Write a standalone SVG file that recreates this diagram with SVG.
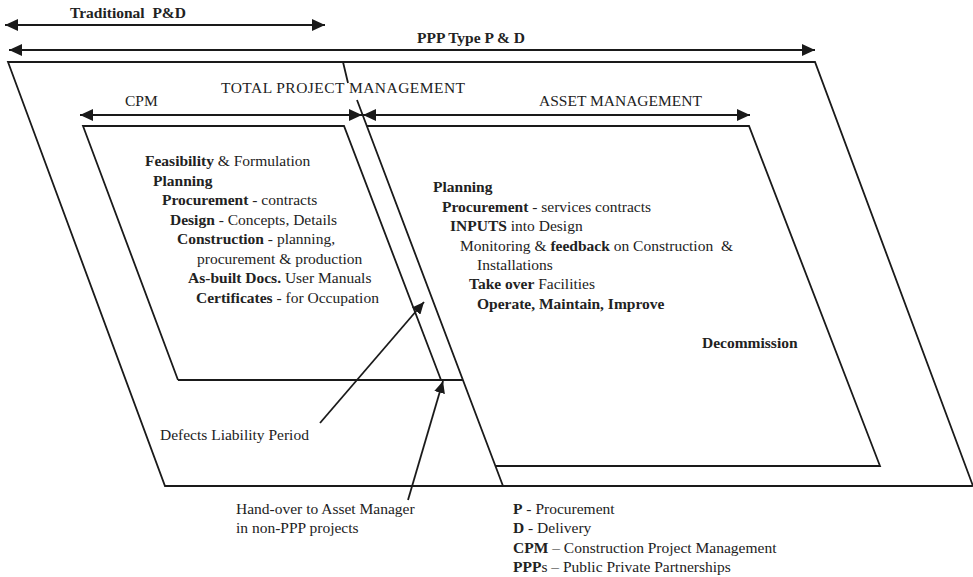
<svg xmlns="http://www.w3.org/2000/svg" width="973" height="577" viewBox="0 0 973 577">
<style>
.ln{fill:none;stroke:#1a1a1a;stroke-width:1.8;stroke-linejoin:miter}
.ar{fill:none;stroke:#1a1a1a;stroke-width:1.8}
.t{font-family:"Liberation Serif","Times New Roman",serif;font-size:15.5px;fill:#222}
.b{font-weight:bold}
.h{font-family:"Liberation Serif","Times New Roman",serif;font-size:15.5px;fill:#222}
</style>
<defs>
<marker id="ah" markerUnits="userSpaceOnUse" markerWidth="14" markerHeight="12" refX="13" refY="6" orient="auto-start-reverse">
<path d="M0,0 L13,6 L0,12 z" fill="#1a1a1a"/>
</marker>
<marker id="ahs" markerUnits="userSpaceOnUse" markerWidth="13" markerHeight="11" refX="12" refY="5.5" orient="auto">
<path d="M0,0 L12,5.5 L0,11 z" fill="#1a1a1a"/>
</marker>
</defs>
<rect width="973" height="577" fill="#fff"/>

<g id="outer-frame">
<path class="ln" d="M8,62 L815,62 L973,486 L165,486 Z"/>
<path class="ln" d="M343,62 L348,83 M357,100 L503,486"/>
<text class="h" x="221" y="93" textLength="244">TOTAL  PROJECT  MANAGEMENT</text>
</g>

<g id="cpm-box">
<path class="ln" d="M178,380 L83,126 L344,126 L441,380 M178,380 L463,380"/>
<text class="h" x="125" y="106">CPM</text>
<text class="t" x="145" y="166"><tspan class="b">Feasibility</tspan> &amp; Formulation</text>
<text class="t b" x="153" y="186">Planning</text>
<text class="t" x="162" y="205"><tspan class="b">Procurement</tspan> - contracts</text>
<text class="t" x="170" y="225"><tspan class="b">Design</tspan> - Concepts, Details</text>
<text class="t" x="177" y="244"><tspan class="b">Construction</tspan> - planning,</text>
<text class="t" x="197" y="264">procurement &amp; production</text>
<text class="t" x="188" y="283"><tspan class="b">As-built Docs.</tspan> User Manuals</text>
<text class="t" x="196" y="303"><tspan class="b">Certificates</tspan> - for Occupation</text>
</g>

<g id="asset-box">
<path class="ln" d="M367,126 L749,126 L880,466 L495,466"/>
<text class="h" x="539" y="106">ASSET MANAGEMENT</text>
<text class="t b" x="433" y="192">Planning</text>
<text class="t" x="442" y="212"><tspan class="b">Procurement</tspan> - services contracts</text>
<text class="t" x="450" y="231"><tspan class="b">INPUTS</tspan> into Design</text>
<text class="t" x="460" y="251" xml:space="preserve">Monitoring &amp; <tspan class="b">feedback</tspan> on Construction  &amp;</text>
<text class="t" x="477" y="270">Installations</text>
<text class="t" x="469" y="289"><tspan class="b">Take over</tspan> Facilities</text>
<text class="t b" x="477" y="309">Operate, Maintain, Improve</text>
<text class="t b" x="702" y="348">Decommission</text>
</g>

<g id="labels">
<text class="t b" x="70" y="18" xml:space="preserve">Traditional  P&amp;D</text>
<text class="t b" x="417" y="43">PPP Type P &amp; D</text>
<text class="t" x="160" y="440">Defects Liability Period</text>
<text class="t" x="236" y="514">Hand-over to Asset Manager</text>
<text class="t" x="236" y="533">in non-PPP projects</text>
</g>

<g id="legend">
<text class="t" x="513" y="514"><tspan class="b">P</tspan> - Procurement</text>
<text class="t" x="513" y="533"><tspan class="b">D</tspan> - Delivery</text>
<text class="t" x="513" y="553"><tspan class="b">CPM</tspan> – Construction Project Management</text>
<text class="t" x="513" y="572"><tspan class="b">PPP</tspan>s – Public Private Partnerships</text>
</g>

<g id="connectors">
<line class="ar" x1="5" y1="25" x2="325" y2="25" marker-start="url(#ah)" marker-end="url(#ah)"/>
<line class="ar" x1="9" y1="50" x2="815" y2="50" marker-start="url(#ah)" marker-end="url(#ah)"/>
<line class="ar" x1="80" y1="115" x2="362" y2="115" marker-start="url(#ah)" marker-end="url(#ah)"/>
<line class="ar" x1="363" y1="115" x2="750" y2="115" marker-start="url(#ah)" marker-end="url(#ah)"/>
<line class="ar" x1="320" y1="423" x2="424" y2="302" marker-end="url(#ahs)"/>
<line class="ar" x1="408" y1="500" x2="443" y2="381" marker-end="url(#ahs)"/>
</g>
</svg>
